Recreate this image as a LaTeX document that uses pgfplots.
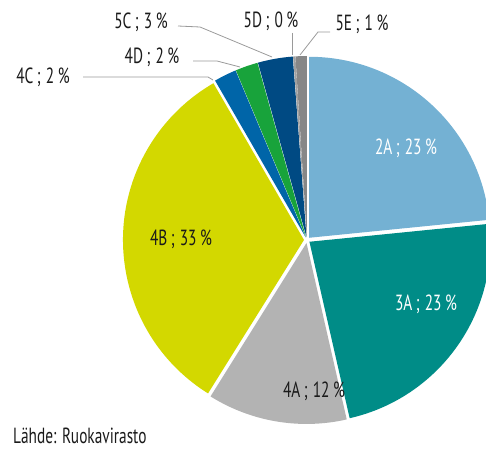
\documentclass[border=0pt]{standalone}
\usepackage{pgfplots}
\pgfplotsset{compat=1.18}
\usepackage{pgfplotstable}
\usepackage{fontspec}
\setmainfont{PT Sans}[FakeStretch=0.70]

\definecolor{c2A}{HTML}{74B1D3}
\definecolor{c3A}{HTML}{008C87}
\definecolor{c4A}{HTML}{B3B3B3}
\definecolor{c4B}{HTML}{D3D800}
\definecolor{c4C}{HTML}{0065A8}
\definecolor{c4D}{HTML}{18A33B}
\definecolor{c5C}{HTML}{004A83}
\definecolor{c5D}{HTML}{A0A0A0}
\definecolor{c5E}{HTML}{878787}
\definecolor{lead}{HTML}{9A9A9A}
\definecolor{txt}{HTML}{1A1A1A}

\newcommand\lab[2]{#1\kern3.5bp;\kern5bp#2\kern3.5bp\%}

% osuudet (%), luettu kuvasta
\pgfplotstableread{
label value col
2A 23.3 c2A
3A 22.9 c3A
4A 12.4 c4A
4B 32.6 c4B
4C 2.0 c4C
4D 2.0 c4D
5C 3.1 c5C
5D 0.2 c5D
5E 1.0 c5E
}\piedata

\begin{document}
\begin{tikzpicture}[lbl/.style={font=\fontsize{22}{25}\selectfont, text=txt, anchor=base, inner sep=0pt}]
\useasboundingbox (0,0) rectangle (486bp,449bp);
\begin{axis}[at={(0,0)}, anchor=origin, x=1bp, y=1bp, xmin=0, xmax=486, ymin=0, ymax=449,
    hide axis, clip=true]
\pgfplotsextra{%
  \pgfplotstablegetrowsof{\piedata}%
  \pgfmathtruncatemacro\N{\pgfplotsretval-1}%
  \gdef\tot{0}%
  \foreach \i in {0,...,\N}{%
    \pgfplotstablegetelem{\i}{value}\of\piedata
    \pgfmathsetmacro\t{\tot+\pgfplotsretval}\xdef\tot{\t}}%
  \gdef\cum{90}%
  \foreach \i in {0,...,\N}{%
    \pgfplotstablegetelem{\i}{value}\of\piedata \let\v\pgfplotsretval
    \pgfplotstablegetelem{\i}{col}\of\piedata \let\scol\pgfplotsretval
    \pgfmathsetmacro\a{\cum}%
    \pgfmathsetmacro\b{\cum-360*\v/\tot}%
    \pgfmathsetmacro\m{(\a+\b)/2}%
    \pgfmathsetmacro\cx{307+3*cos(\m)}%
    \pgfmathsetmacro\cy{209+3*sin(\m)}%
    \fill[\scol] (axis cs:\cx,\cy) -- (axis cs:{\cx+181*cos(\a)},{\cy+181*sin(\a)})
      arc[start angle=\a, end angle=\b, radius=181bp] -- cycle;
    \xdef\cum{\b}}%
}
% johtoviivat
\draw[lead, line width=0.8bp] (axis cs:83,372) -- (axis cs:208,372) -- (axis cs:213,369);
\draw[lead, line width=0.8bp] (axis cs:193,388) -- (axis cs:217,388) -- (axis cs:240,382);
\draw[lead, line width=0.8bp] (axis cs:178,423) -- (axis cs:200,422) -- (axis cs:272,392);
\draw[lead, line width=0.8bp] (axis cs:292,416) -- (axis cs:292,394);
\draw[lead, line width=0.8bp] (axis cs:330,417) -- (axis cs:318,417) -- (axis cs:300,394);
% tekstit
\node[lbl] at (axis cs:141,420) {\lab{5C}{3}};
\node[lbl] at (axis cs:271,421) {\lab{5D}{0}};
\node[lbl] at (axis cs:362,418) {\lab{5E}{1}};
\node[lbl] at (axis cs:152,386) {\lab{4D}{2}};
\node[lbl] at (axis cs:43,366) {\lab{4C}{2}};
\node[lbl, text=white] at (axis cs:406,295) {\lab{2A}{23}};
\node[lbl, text=white] at (axis cs:426,139) {\lab{3A}{23}};
\node[lbl] at (axis cs:314,52) {\lab{4A}{12}};
\node[lbl] at (axis cs:181,204) {\lab{4B}{33}};
\node[lbl, anchor=base west] at (axis cs:13,6) {Lähde: Ruokavirasto};
\end{axis}
\end{tikzpicture}
\end{document}
